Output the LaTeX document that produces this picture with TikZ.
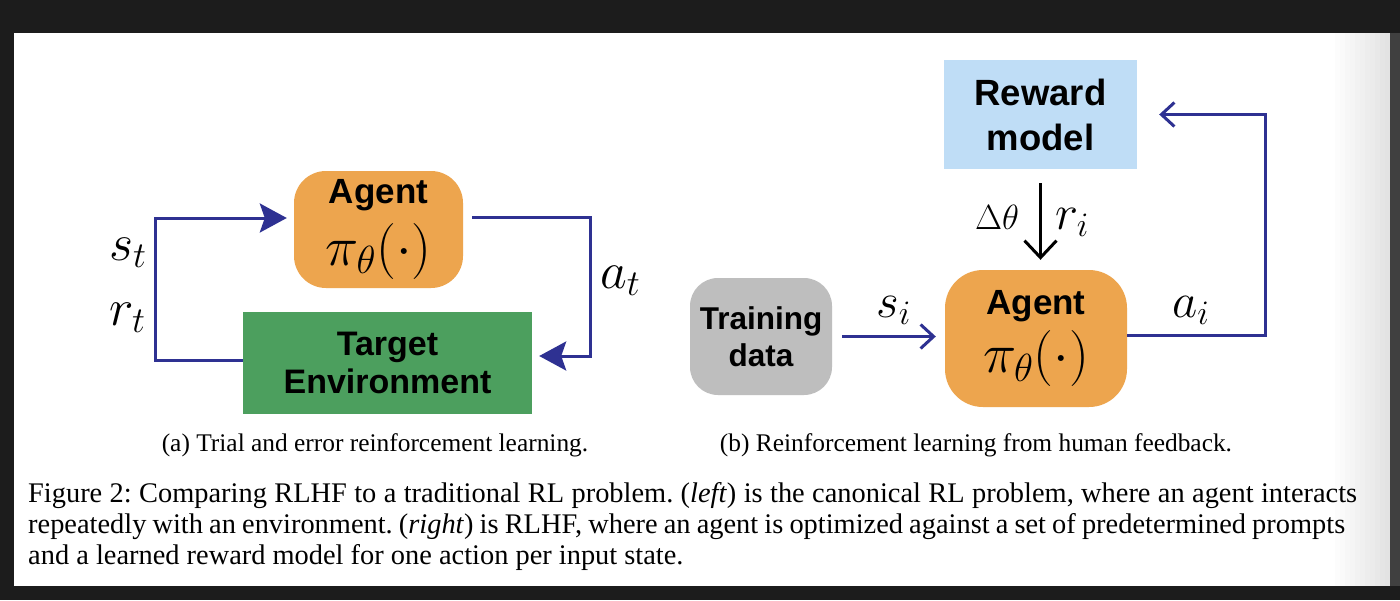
\RequirePackage{fix-cm}
\documentclass[tikz,border=0pt]{standalone}
\usepackage[no-math]{fontspec}
\setmainfont{Liberation Serif}
\newfontfamily\boxfont{Liberation Sans}
\usetikzlibrary{positioning}
\usetikzlibrary{arrows.meta}

\definecolor{agentorange}{HTML}{EDA54E}
\definecolor{envgreen}{HTML}{4C9F5E}
\definecolor{rewardblue}{HTML}{BFDDF6}
\definecolor{datagray}{HTML}{BEBEBE}
\definecolor{loopblue}{HTML}{2E3192}
\definecolor{framebg}{HTML}{1C1C1C}

\newcommand{\policy}{{\fontsize{56}{56}\selectfont$\pi_\theta(\cdot)$}}
\frenchspacing

\begin{document}
\begin{tikzpicture}[x=1pt,y=-1pt,
                    box node/.style={inner sep=0pt,align=center,
                            font=\boxfont\bfseries\fontsize{34}{38}\selectfont},
                    agent node/.style={box node,fill=agentorange,
                            font=\boxfont\bfseries\fontsize{35}{40}\selectfont},
                    math label/.style={inner sep=0pt,anchor=base west,font=\fontsize{52}{52}\selectfont},
                    loop line/.style={draw=loopblue,line width=3pt,shorten >=7pt,
                            -{Stealth[length=27pt,width=29pt,inset=5pt]}},
                    feed line/.style={draw=loopblue,line width=3pt,
                            -{Straight Barb[length=13pt,width=24pt]}},
                    sub cap/.style={inner sep=0pt,anchor=base,font=\fontsize{25.4}{30}\selectfont},
                    fig cap/.style={inner sep=0pt,anchor=base west,font=\fontsize{28.4}{32}\selectfont}]

                \useasboundingbox (0,0) rectangle (1400,600);
                % screen frame
                \fill[framebg] (0,0) rectangle (1400,600);
                \fill[white] (14,33) rectangle (1390,586);
                \foreach \i in {0,...,11}
                    \fill[black!\i] (1330+5*\i,33) rectangle (1335+5*\i,586);
                \fill[black!75] (1390,33) rectangle (1400,586);

                % (a) trial and error
                \node[agent node,minimum width=169pt,minimum height=117pt,rounded corners=32pt] (agentL) at (378.5,229.5) {Agent\\[11pt]\policy};
                \node[box node,fill=envgreen,minimum width=289pt,minimum height=102pt] (envL) at (387.5,363) {Target\\Environment};
                \coordinate (stbend) at (155,218);
                \coordinate (atbend) at (590,217);

                \draw[loop line] ([yshift=3pt]envL.west) -| (stbend) -- (stbend -| agentL.west);
                \draw[loop line] ([xshift=9pt,yshift=12.5pt]agentL.east) -- (atbend) |- ([yshift=7pt]envL.east);

                \node[math label] (st) at (109,260) {$s_t$};
                \node[math label] (rt) at (109,325) {$r_t$};
                \node[math label] (at) at (600,288) {$a_t$};

                % (b) rlhf
                \node[box node,fill=rewardblue,minimum width=193pt,minimum height=109pt,
                      font=\boxfont\bfseries\fontsize{36.5}{45}\selectfont] (reward) at (1040.5,114.5) {Reward\\model};
                \node[agent node,minimum width=182pt,minimum height=137pt,rounded corners=38pt] (agentR) at (1036,338.5) {Agent\\[8pt]\policy};
                \node[box node,fill=datagray,minimum width=142pt,minimum height=117pt,rounded corners=28pt,
                      font=\boxfont\bfseries\fontsize{31.5}{37}\selectfont] (trainR) at (761,336.5) {Training\\data};
                \coordinate (aibend) at (1265,335);

                \draw[feed line,shorten <=10pt,shorten >=9pt] (trainR.east) -- (trainR.east -| agentR.west);
                \draw[feed line,shorten >=22pt] ([yshift=3.5pt]agentR.east) -- (aibend) |- (reward.east);
                \draw[line width=3pt,-{Straight Barb[length=17pt,width=32pt]},shorten <=14pt,shorten >=10pt]
                    (reward.south) -- (reward.south |- agentR.north);

                \node[math label,font=\fontsize{35}{35}\selectfont] (dtheta) at (975,229) {$\Delta\theta$};
                \node[math label,font=\fontsize{49}{49}\selectfont] (ri) at (1055,229) {$r_i$};
                \node[math label,font=\fontsize{49}{49}\selectfont] (si) at (876,317) {$s_i$};
                \node[math label,font=\fontsize{49}{49}\selectfont] (ai) at (1172,317) {$a_i$};

                % captions
                \node[sub cap] (capa) at (375,451) {(a) Trial and error reinforcement learning.};
                \node[sub cap] (capb) at (976,451) {(b) Reinforcement learning from human feedback.};
                \node[fig cap] (capone) at (28,502) {\makebox[1329pt][s]{Figure 2: Comparing RLHF to a traditional RL problem. (\textit{left}) is the canonical RL problem, where an agent interacts}};
                \node[fig cap] (captwo) at (28,533) {\makebox[1317pt][s]{repeatedly with an environment. (\textit{right}) is RLHF, where an agent is optimized against a set of predetermined prompts}};
                \node[fig cap] (capthree) at (28,564) {and a learned reward model for one action per input state.};
            \end{tikzpicture}
\end{document}
